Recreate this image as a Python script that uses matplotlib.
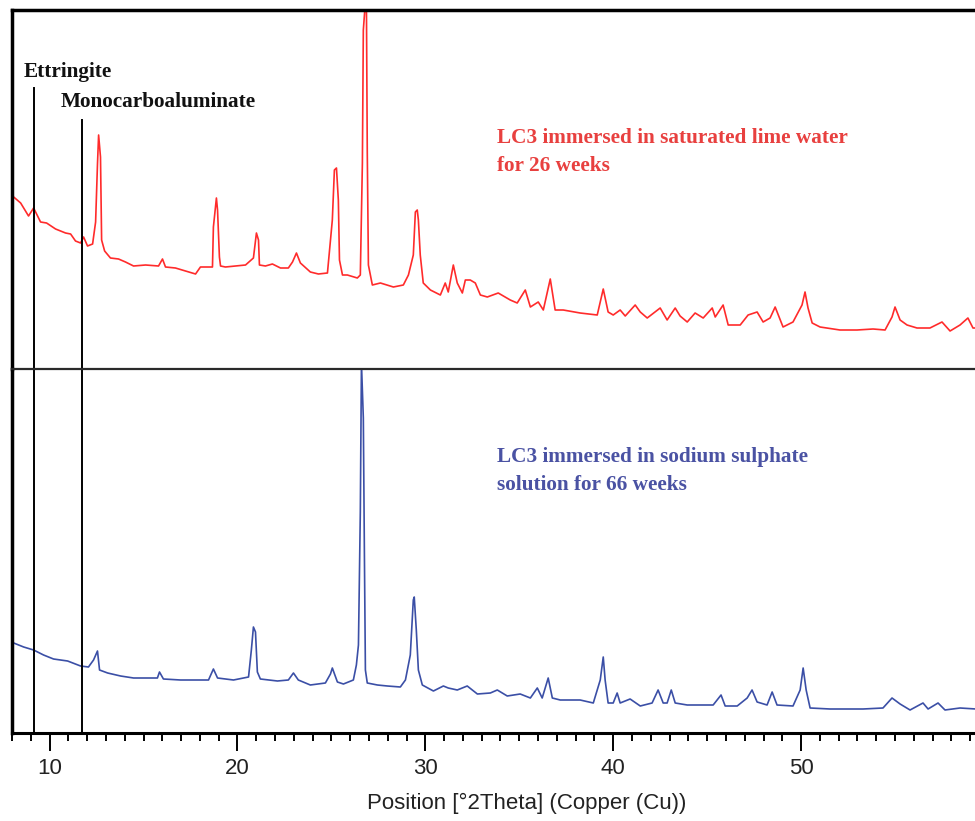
import matplotlib
matplotlib.use("Agg")
import matplotlib.pyplot as plt

# LC3 in saturated lime water, 26 weeks (2theta, counts, arbitrary units)
lime_2theta = [8.09, 8.46, 8.88, 9.15, 9.52, 9.84, 10.32, 10.85, 11.12, 11.38, 11.65, 11.81,
               12.02, 12.29, 12.45, 12.55, 12.61, 12.71, 12.77, 12.93, 13.24, 13.67, 14.04,
               14.47, 15.11, 15.80, 16.01, 16.17, 16.70, 17.23, 17.77, 18.03, 18.56, 18.67,
               18.72, 18.88, 18.94, 19.04, 19.10, 19.36, 19.89, 20.43, 20.85, 21.01, 21.12,
               21.17, 21.49, 21.86, 22.29, 22.71, 22.93, 23.14, 23.35, 23.88, 24.31, 24.79,
               25.05, 25.16, 25.27, 25.37, 25.43, 25.59, 25.85, 26.38, 26.54, 26.65, 26.70,
               26.86, 26.91, 26.97, 27.18, 27.61, 28.30, 28.83, 29.10, 29.36, 29.47, 29.57,
               29.63, 29.73, 29.89, 30.27, 30.80, 31.06, 31.22, 31.49, 31.70, 31.97, 32.13,
               32.39, 32.66, 32.93, 33.30, 33.88, 34.52, 34.89, 35.32, 35.59, 36.01, 36.28,
               36.65, 36.91, 37.34, 38.24, 39.15, 39.47, 39.73, 40.00, 40.37, 40.64, 41.17,
               41.44, 41.81, 42.50, 42.87, 43.30, 43.56, 43.94, 44.36, 44.79, 45.27, 45.43,
               45.85, 46.12, 46.76, 47.18, 47.66, 47.98, 48.35, 48.62, 49.04, 49.57, 50.05,
               50.21, 50.37, 50.59, 51.01, 52.07, 52.98, 53.83, 54.47, 54.84, 55.00, 55.27,
               55.64, 56.17, 56.86, 57.50, 57.93, 58.46, 58.88, 59.15, 59.31]
lime_counts = [1720, 1660, 1530, 1610, 1470, 1460, 1400, 1360, 1350, 1280, 1260, 1320,
               1230, 1250, 1470, 2050, 2340, 2120, 1290, 1180, 1110, 1100, 1070,
               1030, 1040, 1030, 1100, 1020, 1010, 980, 950, 1020, 1020, 1020,
               1420, 1710, 1590, 1120, 1030, 1020, 1030, 1040, 1110, 1360, 1290,
               1040, 1030, 1050, 1010, 1010, 1070, 1160, 1060, 970, 950, 960,
               1490, 1990, 2010, 1690, 1090, 940, 940, 910, 940, 2060, 3390,
               3800, 2170, 1040, 840, 860, 820, 840, 940, 1140, 1570, 1590,
               1490, 1140, 860, 790, 740, 860, 770, 1040, 860, 760, 890,
               890, 860, 740, 720, 760, 690, 660, 790, 620, 670, 590,
               900, 590, 590, 560, 540, 800, 570, 540, 590, 530, 640,
               570, 510, 610, 490, 610, 530, 470, 560, 510, 610, 520,
               640, 440, 440, 540, 570, 470, 510, 620, 420, 470, 640,
               770, 610, 460, 420, 390, 390, 400, 390, 520, 620, 490,
               440, 410, 410, 470, 380, 440, 510, 410, 410]

# LC3 in sodium sulphate solution, 66 weeks
sulph_2theta = [8.09, 8.62, 9.15, 9.68, 10.21, 10.96, 11.65, 12.07, 12.34, 12.55, 12.66,
                13.09, 13.78, 14.47, 15.21, 15.74, 15.85, 16.06, 16.97, 17.87, 18.46, 18.72,
                18.94, 19.79, 20.59, 20.74, 20.85, 20.96, 21.06, 21.22, 22.13, 22.71, 22.98,
                23.24, 23.88, 24.68, 24.95, 25.05, 25.32, 25.64, 26.17, 26.33, 26.44, 26.54,
                26.60, 26.70, 26.76, 26.81, 26.91, 27.45, 27.98, 28.67, 28.94, 29.20, 29.36,
                29.41, 29.52, 29.63, 29.84, 30.43, 30.96, 31.22, 31.70, 32.23, 32.77, 33.46,
                33.83, 34.36, 35.05, 35.59, 35.96, 36.22, 36.54, 36.76, 37.18, 38.24, 38.94,
                39.31, 39.47, 39.57, 39.73, 40.00, 40.21, 40.37, 40.90, 41.44, 42.07, 42.39,
                42.66, 42.87, 43.09, 43.30, 43.94, 45.32, 45.74, 45.96, 46.60, 47.13, 47.39,
                47.66, 48.19, 48.46, 48.72, 49.57, 49.95, 50.11, 50.27, 50.48, 51.54, 53.30,
                54.36, 54.84, 55.27, 55.80, 56.49, 56.76, 57.29, 57.66, 58.46, 59.31]
sulph_counts = [900, 860, 830, 780, 740, 720, 670, 660, 730, 820, 630,
                600, 570, 550, 550, 550, 610, 540, 530, 530, 530, 640,
                550, 530, 560, 830, 1060, 1010, 610, 540, 520, 530, 600,
                530, 480, 500, 590, 650, 510, 490, 530, 680, 880, 2210,
                3700, 3150, 1730, 630, 500, 480, 470, 460, 530, 780, 1330,
                1360, 1030, 630, 480, 420, 470, 450, 430, 470, 390, 400,
                430, 370, 390, 350, 450, 350, 550, 350, 330, 330, 300,
                530, 760, 530, 300, 300, 400, 300, 340, 270, 300, 430,
                300, 300, 430, 300, 280, 280, 380, 270, 270, 350, 430,
                310, 280, 410, 280, 270, 430, 650, 430, 250, 240, 240,
                250, 350, 290, 230, 300, 240, 300, 230, 250, 240]

phase_names = ["Ettringite", "Monocarboaluminate"]
phase_2theta = [9.15, 11.75]

red_line = "#ff2b2b"
red_text = "#e8403f"
blue_line = "#3b4fa6"
blue_text = "#4a52a3"

W, H = 975, 821
fig = plt.figure(figsize=(W / 100, H / 100), dpi=100)
# the right edge runs off the picture, like the cropped original
ax_w = (1041 - 12) / W
ax_top = fig.add_axes([12 / W, (H - 369) / H, ax_w, 359 / H])
ax_bot = fig.add_axes([12 / W, (H - 733) / H, ax_w, 364 / H], sharex=ax_top)
ax_bot.patch.set_visible(False)
ax_top.set_zorder(2)
ax_top.patch.set_visible(False)

ax_top.plot(lime_2theta, lime_counts, color=red_line, lw=1.2)
ax_bot.plot(sulph_2theta, sulph_counts, color=blue_line, lw=1.2)

ax_top.set_xlim(8.03, 62.77)
ax_top.set_ylim(0, 3590)
ax_bot.set_ylim(0, 3640)

for ax in (ax_top, ax_bot):
    ax.set_yticks([])
    ax.spines["right"].set_visible(False)
    ax.spines["left"].set_linewidth(2.5)

ax_top.spines["top"].set_linewidth(2.5)
ax_top.spines["bottom"].set_linewidth(1.6)
ax_top.spines["bottom"].set_color("#2a2a2a")
ax_bot.spines["top"].set_visible(False)
ax_bot.spines["bottom"].set_linewidth(2.2)

ax_bot.set_xticks([10, 20, 30, 40, 50])
ax_bot.set_xticks(range(8, 63), minor=True)
ax_top.tick_params(axis="x", which="both", bottom=False, labelbottom=False)
ax_bot.tick_params(axis="x", which="major", length=13, width=1.4, pad=5,
                   labelsize=16, labelcolor="#222222")
ax_bot.tick_params(axis="x", which="minor", length=6, width=1.4)
for lab in ax_bot.get_xticklabels():
    lab.set_fontfamily("Liberation Sans")
ax_bot.set_xlabel("Position [°2Theta] (Copper (Cu))", fontsize=16,
                  fontfamily="Liberation Sans", color="#222222", labelpad=10)

# phase marker lines run through both panels
line_tops = [(369 - 88) / 359, (369 - 120) / 359]
label_y = [(369 - 72) / 359, (369 - 102) / 359]
label_x = [8.6, 10.6]
for name, pos, top, ly, lx in zip(phase_names, phase_2theta, line_tops, label_y, label_x):
    ax_top.axvline(pos, ymin=0, ymax=top, color="black", lw=1.4)
    ax_bot.axvline(pos, color="black", lw=1.4)
    ax_top.text(lx, ly, name, transform=ax_top.get_xaxis_transform(),
                fontsize=15.3, fontweight="bold", fontfamily="Liberation Serif",
                color="#111111", va="center", ha="left")

ax_top.text(33.8, (369 - 152) / 359, "LC3 immersed in saturated lime water\nfor 26 weeks",
            transform=ax_top.get_xaxis_transform(), fontsize=15.3, fontweight="bold",
            fontfamily="Liberation Serif", color=red_text, va="center", ha="left",
            linespacing=1.55)
ax_bot.text(33.8, (733 - 471) / 364, "LC3 immersed in sodium sulphate\nsolution for 66 weeks",
            transform=ax_bot.get_xaxis_transform(), fontsize=15.3, fontweight="bold",
            fontfamily="Liberation Serif", color=blue_text, va="center", ha="left",
            linespacing=1.55)

fig.savefig("out.png", dpi=100)
